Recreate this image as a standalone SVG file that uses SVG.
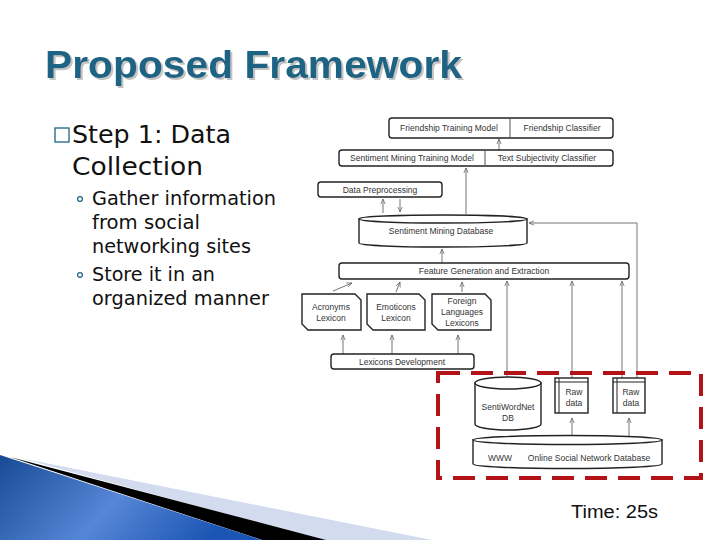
<svg xmlns="http://www.w3.org/2000/svg" width="720" height="540" viewBox="0 0 720 540">
<defs>
<style>
.bx{fill:#fff;stroke:#222;stroke-width:1.4}
.t{font-family:"Liberation Sans",Arial,sans-serif;font-size:8.5px;fill:#333;text-anchor:middle}
.ln{stroke:#777;stroke-width:1;fill:none}
.ar{stroke:#666;stroke-width:0.9;fill:none;marker-end:url(#ah)}
.body{font-family:"DejaVu Sans",Verdana,sans-serif;fill:#111}
</style>
<marker id="ah" viewBox="0 0 8 8" refX="7" refY="4" markerWidth="6" markerHeight="6" orient="auto" markerUnits="userSpaceOnUse">
<path d="M0,1 L7,4 L0,7" fill="none" stroke="#666" stroke-width="1"/>
</marker>
<linearGradient id="bl" x1="0" y1="0" x2="1" y2="0.3">
<stop offset="0" stop-color="#174a95"/>
<stop offset="0.55" stop-color="#5686d6"/>
<stop offset="1" stop-color="#1c56b4"/>
</linearGradient>
<filter id="sh" x="-5%" y="-20%" width="110%" height="140%">
<feOffset in="SourceAlpha" dx="2" dy="2" result="o"/>
<feFlood flood-color="#c4c4c4"/>
<feComposite in2="o" operator="in" result="s"/>
<feMerge><feMergeNode in="s"/><feMergeNode in="SourceGraphic"/></feMerge>
</filter>
</defs>

<g id="decor">
<polygon points="20,458 432,540 322,540" fill="#d2dcee"/>
<polygon points="10,457 326,540 262,540" fill="#000"/>
<polygon points="0,455 262,540 0,540" fill="url(#bl)"/>
</g>

<g id="title">
<text x="45" y="78" filter="url(#sh)" font-family="Liberation Sans,Arial,sans-serif" font-weight="bold" font-size="39" fill="#1c6384" textLength="417" lengthAdjust="spacingAndGlyphs">Proposed Framework</text>
</g>

<g id="bullets">
<rect x="55" y="128" width="14" height="14" fill="none" stroke="#1c6384" stroke-width="1.3"/>
<text class="body" x="72" y="143" font-size="25" textLength="159" lengthAdjust="spacingAndGlyphs">Step 1: Data</text>
<text class="body" x="72" y="175" font-size="25" textLength="131" lengthAdjust="spacingAndGlyphs">Collection</text>
<circle cx="80" cy="199" r="2.4" fill="none" stroke="#1c6384" stroke-width="1.2"/>
<text class="body" x="92" y="205" font-size="19" textLength="184" lengthAdjust="spacingAndGlyphs">Gather information</text>
<text class="body" x="92" y="229" font-size="19" textLength="108" lengthAdjust="spacingAndGlyphs">from social</text>
<text class="body" x="92" y="253" font-size="19" textLength="159" lengthAdjust="spacingAndGlyphs">networking sites</text>
<circle cx="80" cy="275" r="2.4" fill="none" stroke="#1c6384" stroke-width="1.2"/>
<text class="body" x="92" y="281" font-size="19" textLength="123" lengthAdjust="spacingAndGlyphs">Store it in an</text>
<text class="body" x="92" y="305" font-size="19" textLength="177" lengthAdjust="spacingAndGlyphs">organized manner</text>
</g>

<g id="connectors">
<line class="ar" x1="499" y1="150" x2="499" y2="139"/>
<line class="ar" x1="383" y1="213" x2="383" y2="199"/>
<line class="ar" x1="400" y1="199" x2="400" y2="212"/>
<line class="ar" x1="466" y1="214" x2="466" y2="168"/>
<line class="ar" x1="442" y1="263" x2="442" y2="249"/>
<polyline class="ln" points="637,413 637,223 540,223"/>
<line class="ar" x1="540" y1="223" x2="529" y2="223"/>
<line class="ar" x1="333" y1="291" x2="352" y2="283"/>
<line class="ar" x1="396" y1="292" x2="400" y2="282"/>
<line class="ar" x1="462" y1="292" x2="462" y2="282"/>
<line class="ar" x1="343" y1="354" x2="343" y2="335"/>
<line class="ar" x1="392" y1="354" x2="392" y2="335"/>
<line class="ar" x1="458" y1="354" x2="458" y2="335"/>
<line class="ar" x1="507" y1="378" x2="507" y2="281"/>
<line class="ar" x1="572" y1="378" x2="572" y2="281"/>
<line class="ar" x1="622" y1="378" x2="622" y2="281"/>
<line class="ar" x1="572" y1="437" x2="572" y2="418"/>
<line class="ar" x1="629" y1="437" x2="629" y2="418"/>
</g>

<g id="friendship">
<rect class="bx" x="389" y="118" width="224" height="20" rx="3"/>
<line x1="510" y1="118" x2="510" y2="138" stroke="#555"/>
<text class="t" x="449" y="131">Friendship Training Model</text>
<text class="t" x="562" y="131">Friendship Classifier</text>
</g>

<g id="sentiment-training">
<rect class="bx" x="339" y="150" width="274" height="16" rx="3"/>
<line x1="485" y1="150" x2="485" y2="166" stroke="#555"/>
<text class="t" x="412" y="161">Sentiment Mining Training Model</text>
<text class="t" x="547" y="161">Text Subjectivity Classifier</text>
</g>

<g id="data-preprocessing">
<rect class="bx" x="318" y="182" width="124" height="15" rx="3"/>
<text class="t" x="380" y="192.5">Data Preprocessing</text>
</g>

<g id="sentiment-db">
<path class="bx" d="M359,219 L359,243 A84,4 0 0 0 527,243 L527,219 Z"/>
<ellipse class="bx" cx="443" cy="219" rx="84" ry="4"/>
<text class="t" x="441" y="234">Sentiment Mining Database</text>
</g>

<g id="feature-generation">
<rect class="bx" x="339" y="263" width="290" height="16" rx="3"/>
<text class="t" x="484" y="274">Feature Generation and Extraction</text>
</g>

<g id="acronyms">
<path class="bx" d="M302,294 L355,294 L361,300 L361,330 L308,330 L302,324 Z"/>
<text class="t" x="331" y="310">Acronyms</text>
<text class="t" x="331" y="321">Lexicon</text>
</g>
<g id="emoticons">
<path class="bx" d="M367,294 L419,294 L425,300 L425,330 L373,330 L367,324 Z"/>
<text class="t" x="396" y="310">Emoticons</text>
<text class="t" x="396" y="321">Lexicon</text>
</g>
<g id="foreign">
<path class="bx" d="M432,294 L485,294 L491,300 L491,330 L438,330 L432,324 Z"/>
<text class="t" x="462" y="304">Foreign</text>
<text class="t" x="462" y="315">Languages</text>
<text class="t" x="462" y="326">Lexicons</text>
</g>

<g id="lexicons-development">
<rect class="bx" x="331" y="354" width="143" height="15" rx="3"/>
<text class="t" x="402" y="364.5">Lexicons Development</text>
</g>

<g id="highlight">
<rect x="438" y="373" width="263" height="105" fill="none" stroke="#b31217" stroke-width="4" stroke-dasharray="22,11"/>
</g>

<g id="sentiwordnet">
<path class="bx" d="M475,383 L475,424 A33,6 0 0 0 541,424 L541,383 Z"/>
<ellipse class="bx" cx="508" cy="383" rx="33" ry="6"/>
<text class="t" x="508" y="410">SentiWordNet</text>
<text class="t" x="508" y="421">DB</text>
</g>

<g id="raw-data-1">
<rect class="bx" x="555" y="378" width="33" height="35"/>
<line x1="559" y1="378" x2="559" y2="413" stroke="#222" stroke-width="1"/>
<line x1="555" y1="382" x2="588" y2="382" stroke="#222" stroke-width="1"/>
<text class="t" x="574" y="395">Raw</text>
<text class="t" x="574" y="406">data</text>
</g>
<g id="raw-data-2">
<rect class="bx" x="613" y="378" width="32" height="35"/>
<line x1="617" y1="378" x2="617" y2="413" stroke="#222" stroke-width="1"/>
<line x1="613" y1="382" x2="645" y2="382" stroke="#222" stroke-width="1"/>
<text class="t" x="631" y="395">Raw</text>
<text class="t" x="631" y="406">data</text>
</g>

<g id="www-db">
<path class="bx" d="M473,440 L473,464 A94.5,4.5 0 0 0 662,464 L662,440 Z"/>
<ellipse class="bx" cx="567.5" cy="440" rx="94.5" ry="4.5"/>
<text class="t" x="500" y="461">WWW</text>
<text class="t" x="589" y="461">Online Social Network Database</text>
</g>

<g id="time">
<text x="571" y="518" font-family="Liberation Sans,Arial,sans-serif" font-size="18" fill="#111" textLength="87" lengthAdjust="spacingAndGlyphs">Time: 25s</text>
</g>
</svg>
